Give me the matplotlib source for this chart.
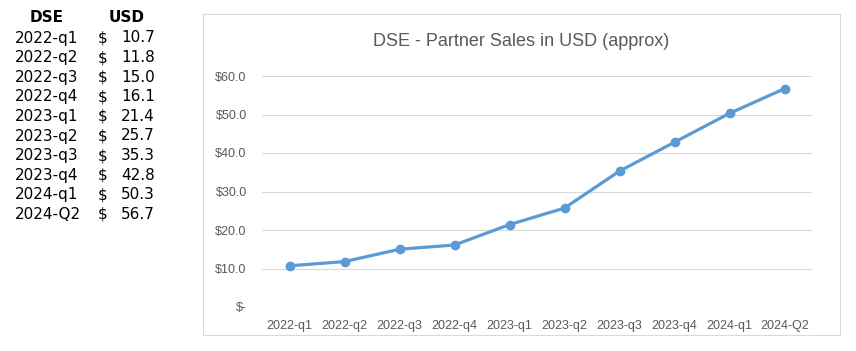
import matplotlib.pyplot as plt
from matplotlib.patches import Rectangle
from matplotlib.ticker import FuncFormatter

quarters = ['2022-q1', '2022-q2', '2022-q3', '2022-q4', '2023-q1',
            '2023-q2', '2023-q3', '2023-q4', '2024-q1', '2024-Q2']
sales = [10.7, 11.8, 15.0, 16.1, 21.4, 25.7, 35.3, 42.8, 50.3, 56.7]

W, H = 856, 351
fig = plt.figure(figsize=(W / 100, H / 100), dpi=100)

# table on the left
fig.text(47 / W, 1 - 18 / H, 'DSE', ha='center', va='center', fontsize=11, fontweight='bold')
fig.text(127 / W, 1 - 18 / H, 'USD', ha='center', va='center', fontsize=11, fontweight='bold')
for i, (q, v) in enumerate(zip(quarters, sales)):
    y = 1 - (38 + i * 19.6) / H
    fig.text(15 / W, y, q, ha='left', va='center', fontsize=11)
    fig.text(98 / W, y, '$', ha='left', va='center', fontsize=11)
    fig.text(155 / W, y, f'{v:.1f}', ha='right', va='center', fontsize=11)

# chart border
fig.patches.append(Rectangle((203 / W, 1 - 335 / H), 637 / W, 321 / H,
                             transform=fig.transFigure, fill=False,
                             edgecolor='#d9d9d9', linewidth=0.8))

ax = fig.add_axes([262 / W, 1 - 307 / H, 550 / W, 231 / H])
x = range(len(quarters))
ax.plot(x, sales, color='#5b9bd5', linewidth=2.3, marker='o', markersize=6)
ax.set_xlim(-0.5, len(quarters) - 0.5)
ax.set_ylim(0, 60)
ax.set_yticks(range(0, 61, 10))
ax.yaxis.set_major_formatter(FuncFormatter(lambda v, p: '$-' if v == 0 else f'${v:.1f}'))
ax.set_xticks(list(x))
ax.set_xticklabels(quarters)
ax.grid(axis='y', color='#d9d9d9', linewidth=0.8)
ax.set_axisbelow(True)
for s in ax.spines.values():
    s.set_visible(False)
ax.tick_params(length=0, labelsize=9, colors='#595959')
for lbl in ax.get_xticklabels() + ax.get_yticklabels():
    lbl.set_fontfamily('Liberation Sans')
ax.tick_params(axis='y', pad=11)
ax.tick_params(axis='x', pad=9)

fig.text((372 + 670) / 2 / W, 1 - 42 / H, 'DSE - Partner Sales in USD (approx)',
         ha='center', va='center', fontsize=13, color='#595959',
         family='Liberation Sans')

fig.savefig('out.png', dpi=100)
